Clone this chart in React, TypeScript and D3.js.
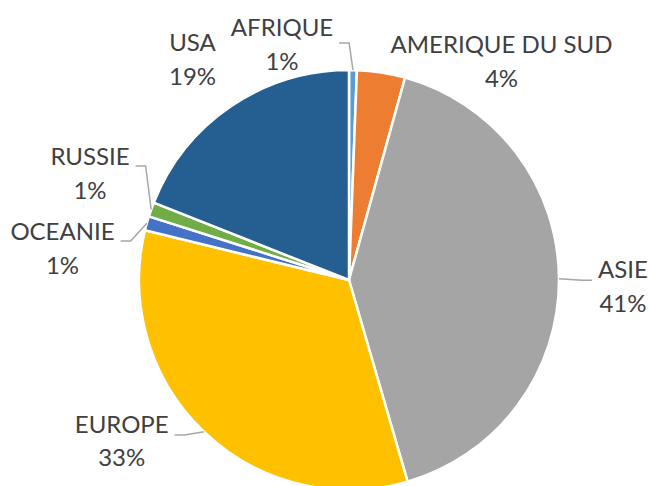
import React, { useEffect, useRef } from "react";
import * as d3 from "d3";

const categories = ["AFRIQUE", "AMERIQUE DU SUD", "ASIE", "EUROPE", "OCEANIE", "RUSSIE", "USA"];
const values = [0.6, 3.7, 41.2, 33.3, 1.1, 1.1, 19.0];
const colors = ["#5B9BD5", "#ED7D31", "#A5A5A5", "#FFC000", "#4472C4", "#70AD47", "#255E91"];
const withLeader = [true, false, true, true, true, true, false];

// label placement: offset of the first line's centre/baseline from the pie centre
const labelOffsets: [number, number][] = [
  [-67, -244],
  [152.5, -226.7],
  [274, -1.7],
  [-227.3, 152.7],
  [-286.5, -40],
  [-259, -115],
  [-156.5, -229],
];
const leaderDy = [5.5, 0, 0.5, 0.8, -0.5, -0.5, 0];

const W = 650;
const H = 486;
const CX = 349;
const CY = 280;
const R = 210;
const FONT_SIZE = 24;
const LINE_GAP = 33.5;

export default function App() {
  const ref = useRef<SVGSVGElement | null>(null);

  useEffect(() => {
    const svg = d3.select(ref.current);
    svg.selectAll("*").remove();
    const total = d3.sum(values);
    const data = categories.map((c, i) => ({ c, v: values[i], i }));
    const pie = d3.pie<any>().sort(null).value((d) => d.v).startAngle(0).endAngle(2 * Math.PI);
    const arcs = pie(data);
    const arc = d3.arc<any>().innerRadius(0).outerRadius(R);

    const g = svg.append("g").attr("transform", `translate(${CX},${CY})`);
    g.selectAll("path.slice")
      .data(arcs)
      .join("path")
      .attr("class", "slice")
      .attr("d", arc as any)
      .attr("fill", (d: any) => colors[d.data.i])
      .attr("stroke", "#ffffff")
      .attr("stroke-width", 2.5)
      .attr("stroke-linejoin", "round");

    const lg = g.append("g").attr("font-family", "Lato, 'Open Sans', sans-serif").attr("font-size", FONT_SIZE).attr("fill", "#404040");

    arcs.forEach((a: any) => {
      const i = a.data.i;
      const [ox, oy] = labelOffsets[i];
      const t1 = lg.append("text").attr("x", ox).attr("y", oy).attr("text-anchor", "middle").text(categories[i]);
      lg.append("text")
        .attr("x", ox)
        .attr("y", oy + LINE_GAP)
        .attr("text-anchor", "middle")
        .text(`${Math.round((a.data.v / total) * 100)}%`);

      if (withLeader[i]) {
        const w = (t1.node() as SVGTextElement).getComputedTextLength();
        const mid = (a.startAngle + a.endAngle) / 2;
        const px = Math.sin(mid) * R;
        const py = -Math.cos(mid) * R;
        const leftSide = px > ox;
        const sx = leftSide ? ox + w / 2 + 6 : ox - w / 2 - 6;
        const sy = oy + 1.5 + leaderDy[i];
        const hx = leftSide ? sx + 10 : sx - 10;
        g.append("path")
          .attr("d", d3.line()([[sx, sy], [hx, sy], [px, py]]) as string)
          .attr("fill", "none")
          .attr("stroke", "#A6A6A6")
          .attr("stroke-width", 1.5);
      }
    });
  }, []);

  return (
    <svg
      ref={ref}
      width={W}
      height={H}
      style={{ position: "absolute", left: 0, top: 0, background: "#ffffff" }}
    />
  );
}
